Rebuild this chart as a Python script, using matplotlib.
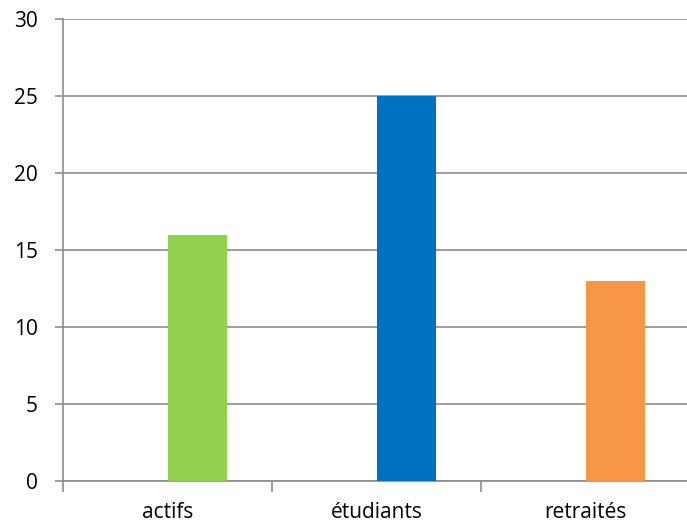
import matplotlib.pyplot as plt
import numpy as np

categories = ["actifs", "étudiants", "retraités"]
values = [16, 25, 13]
colors = ["#92D050", "#0070C0", "#F79646"]
yticks = [0, 5, 10, 15, 20, 25, 30]

plt.rcParams['font.family'] = ['Open Sans', 'DejaVu Sans']

fig = plt.figure(figsize=(6.87, 5.28), dpi=100)
W, H = 687, 528
ax = fig.add_axes([63 / W, (H - 481) / H, 627 / W, 462 / H])

x = np.arange(len(categories))
ax.bar(x, values, width=0.287, align='edge', color=colors, zorder=3)

ax.set_xlim(-0.5, len(categories) - 0.5)
ax.set_ylim(0, 30)
ax.set_yticks(yticks)
ax.set_xticks(x)
ax.set_xticklabels(categories)
ax.set_xticks(np.arange(-0.5, len(categories), 1), minor=True)

grey = "#8c8c8c"
ax.yaxis.grid(True, color=grey, linewidth=1.2, zorder=0)
for s in ['top', 'right']:
    ax.spines[s].set_visible(False)
for s in ['left', 'bottom']:
    ax.spines[s].set_color(grey)
    ax.spines[s].set_linewidth(1.2)

ax.tick_params(axis='y', length=6, width=1.2, color=grey, labelsize=15, pad=12)
ax.tick_params(axis='x', which='major', length=0, labelsize=15, pad=15)
ax.tick_params(axis='x', which='minor', length=8, width=1.2, color=grey)

fig.savefig("out.png", dpi=100)
